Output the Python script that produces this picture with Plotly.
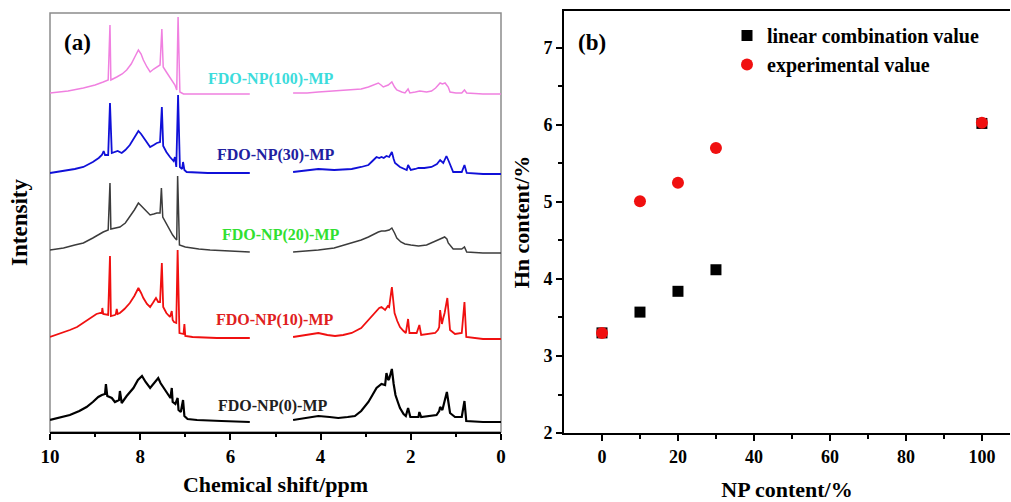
import plotly.graph_objects as go

# ---------------- Panel (a): 1H NMR spectra ----------------
names = ["FDO-NP(100)-MP", "FDO-NP(30)-MP", "FDO-NP(20)-MP", "FDO-NP(10)-MP", "FDO-NP(0)-MP"]
offsets = [338, 259, 180, 94, 10]

pink_L_ppm = [10.0, 9.6, 9.26, 9.0, 8.82, 8.71, 8.67, 8.65, 8.52, 8.40, 8.30, 8.20, 8.12, 8.04, 7.98, 7.93, 7.85, 7.78, 7.70, 7.63, 7.56, 7.52, 7.49, 7.42, 7.34, 7.28, 7.23, 7.19, 7.16, 7.12, 7.04, 6.5, 5.57]
pink_L_int = [1, 3, 6, 9, 12, 14, 69, 14, 17, 20, 24, 30, 37, 44, 40, 34, 27, 22, 25, 27, 29, 65, 27, 22, 17, 13, 9, 4, 77, 2, 0, 0, 0]
pink_R_ppm = [4.61, 4.3, 4.05, 3.7, 3.31, 3.1, 2.94, 2.82, 2.72, 2.66, 2.61, 2.50, 2.42, 2.36, 2.31, 2.20, 2.13, 2.06, 2.02, 1.90, 1.80, 1.65, 1.54, 1.45, 1.35, 1.30, 1.24, 1.17, 1.13, 1.0, 0.87, 0.81, 0.76, 0.4, 0.0]
pink_R_int = [1, 1, 2, 3, 4, 5, 7, 9, 11, 9, 7, 9, 12, 7, 4, 2, 1, 5, 1, 2, 3, 2, 3, 6, 11, 10, 11, 7, 2, 1, 1, 4, 1, 0, 0]

blue_L_ppm = [10.0, 9.7, 9.45, 9.26, 9.05, 8.92, 8.85, 8.81, 8.78, 8.71, 8.67, 8.63, 8.55, 8.50, 8.41, 8.33, 8.23, 8.13, 8.04, 7.98, 7.93, 7.85, 7.78, 7.70, 7.63, 7.56, 7.52, 7.49, 7.42, 7.34, 7.26, 7.23, 7.20, 7.16, 7.12, 7.07, 7.05, 7.02, 6.97, 6.5, 5.57]
blue_L_int = [0, 2, 4, 6, 11, 15, 18, 22, 18, 18, 70, 20, 21, 22, 20, 23, 28, 35, 42, 39, 36, 30, 26, 28, 30, 31, 66, 27, 21, 16, 12, 16, 6, 78, 6, 4, 11, 3, 1, 0, 0]
blue_R_ppm = [4.61, 4.3, 4.05, 3.7, 3.31, 3.1, 2.94, 2.85, 2.76, 2.70, 2.65, 2.60, 2.54, 2.48, 2.42, 2.38, 2.35, 2.24, 2.12, 2.09, 2.06, 2.00, 1.90, 1.83, 1.70, 1.54, 1.42, 1.35, 1.28, 1.21, 1.16, 1.13, 1.06, 0.87, 0.81, 0.76, 0.4, 0.0]
blue_R_int = [1, 3, 4, 3, 4, 6, 8, 12, 16, 15, 16, 15, 17, 16, 21, 14, 10, 6, 4, 3, 8, 3, 4, 5, 5, 6, 9, 13, 10, 17, 12, 8, 1, 1, 8, 0, -1, -1]

gray_L_ppm = [10.0, 9.7, 9.45, 9.26, 9.05, 8.90, 8.82, 8.71, 8.67, 8.65, 8.55, 8.45, 8.33, 8.23, 8.13, 8.04, 7.98, 7.93, 7.85, 7.78, 7.70, 7.63, 7.56, 7.53, 7.50, 7.42, 7.34, 7.28, 7.23, 7.19, 7.17, 7.13, 7.0, 6.89, 6.7, 6.45, 6.0, 5.57]
gray_L_int = [2, 4, 7, 9, 14, 18, 20, 22, 69, 23, 24, 25, 29, 35, 42, 49, 46, 44, 40, 37, 38, 39, 39, 64, 35, 28, 22, 17, 14, 12, 76, 7, 5, 4, 3, 2, 1, 0]
gray_R_ppm = [4.61, 4.3, 4.05, 3.7, 3.31, 3.1, 2.94, 2.82, 2.72, 2.65, 2.57, 2.48, 2.42, 2.36, 2.31, 2.22, 2.13, 2.0, 1.83, 1.65, 1.54, 1.42, 1.35, 1.25, 1.20, 1.17, 1.10, 1.06, 0.87, 0.81, 0.76, 0.4, 0.0]
gray_R_int = [0, 1, 2, 4, 9, 12, 15, 18, 20, 21, 21, 22, 24, 19, 14, 10, 8, 7, 6, 7, 9, 11, 13, 15, 13, 9, 5, 3, 3, 5, 0, -1, -1]

red_L_ppm = [10.0, 9.8, 9.56, 9.4, 9.26, 9.1, 8.97, 8.88, 8.85, 8.84, 8.82, 8.71, 8.67, 8.65, 8.56, 8.54, 8.52, 8.50, 8.45, 8.35, 8.23, 8.13, 8.04, 7.98, 7.93, 7.85, 7.78, 7.72, 7.69, 7.65, 7.60, 7.56, 7.52, 7.49, 7.42, 7.34, 7.30, 7.28, 7.25, 7.20, 7.17, 7.13, 7.04, 7.02, 7.00, 6.84, 6.3, 5.57]
red_L_int = [1, 4, 8, 11, 15, 20, 24, 25, 25, 30, 24, 23, 82, 22, 23, 24, 29, 24, 25, 29, 35, 42, 50, 45, 40, 34, 31, 35, 37, 40, 36, 36, 75, 31, 25, 21, 27, 18, 16, 15, 88, 5, 4, 14, 2, 1, 0, 0]
red_R_ppm = [4.61, 4.35, 4.05, 3.85, 3.68, 3.5, 3.31, 3.1, 2.94, 2.85, 2.76, 2.70, 2.65, 2.57, 2.51, 2.48, 2.42, 2.39, 2.36, 2.30, 2.24, 2.16, 2.11, 2.06, 2.03, 1.87, 1.81, 1.77, 1.60, 1.46, 1.40, 1.37, 1.35, 1.31, 1.28, 1.25, 1.19, 1.16, 1.13, 1.02, 0.87, 0.81, 0.77, 0.4, 0.0]
red_R_int = [1, 3, 5, 3, 2, 3, 5, 10, 18, 23, 28, 30, 31, 28, 32, 31, 51, 35, 25, 17, 11, 7, 5, 19, 5, 5, 13, 3, 4, 5, 8, 11, 28, 14, 20, 25, 40, 22, 8, 4, 5, 36, 1, -1, -1]

black_L_ppm = [10.0, 9.8, 9.56, 9.35, 9.19, 9.05, 8.93, 8.85, 8.78, 8.76, 8.73, 8.63, 8.56, 8.47, 8.45, 8.41, 8.30, 8.15, 8.05, 7.96, 7.88, 7.78, 7.70, 7.62, 7.60, 7.55, 7.49, 7.43, 7.38, 7.33, 7.30, 7.28, 7.22, 7.17, 7.15, 7.10, 7.05, 7.02, 6.95, 6.74, 6.2, 5.57]
black_L_int = [2, 4, 7, 11, 15, 20, 25, 27, 28, 38, 26, 24, 20, 22, 31, 19, 26, 34, 42, 46, 40, 34, 38, 42, 44, 39, 35, 30, 27, 24, 34, 20, 18, 24, 12, 10, 22, 6, 3, 2, 1, 0]
black_R_ppm = [4.61, 4.35, 4.05, 3.8, 3.61, 3.4, 3.24, 3.1, 2.94, 2.85, 2.76, 2.65, 2.57, 2.54, 2.50, 2.48, 2.42, 2.38, 2.34, 2.28, 2.24, 2.16, 2.11, 2.06, 2.01, 1.83, 1.81, 1.77, 1.55, 1.43, 1.37, 1.35, 1.30, 1.25, 1.20, 1.16, 1.13, 1.02, 0.87, 0.81, 0.77, 0.4, 0.0]
black_R_int = [2, 4, 6, 5, 4, 5, 6, 11, 20, 27, 34, 38, 37, 49, 42, 43, 53, 38, 27, 19, 14, 8, 6, 14, 5, 5, 10, 5, 6, 7, 11, 15, 12, 22, 30, 18, 9, 5, 5, 21, 1, 0, 0]

spectra = [
    (pink_L_ppm, pink_L_int, pink_R_ppm, pink_R_int),
    (blue_L_ppm, blue_L_int, blue_R_ppm, blue_R_int),
    (gray_L_ppm, gray_L_int, gray_R_ppm, gray_R_int),
    (red_L_ppm, red_L_int, red_R_ppm, red_R_int),
    (black_L_ppm, black_L_int, black_R_ppm, black_R_int),
]
line_colors = ["#F080E0", "#1010D8", "#3C3C3C", "#F01010", "#000000"]
line_widths = [1.5, 1.8, 1.5, 1.8, 2.2]
label_colors = ["#3CDCDC", "#2020A0", "#30E030", "#E02020", "#202020"]
label_pos_ppm = [5.10, 4.99, 4.88, 5.01, 5.06]
label_pos_y = [353, 277, 197, 112, 26]

# ---------------- Panel (b): Hn content ----------------
np_content = [0, 10, 20, 30, 100]
linear_comb = [3.30, 3.57, 3.84, 4.12, 6.02]
experimental = [3.30, 5.01, 5.25, 5.70, 6.03]

FONT = "Liberation Serif"
W, H = 1011, 502

fig = go.Figure()

for (lp, li, rp, ri), off, col, lw in zip(spectra, offsets, line_colors, line_widths):
    xs = list(lp) + [None] + list(rp)
    ys = [v + off for v in li] + [None] + [v + off for v in ri]
    fig.add_trace(go.Scatter(x=xs, y=ys, mode="lines", line=dict(color=col, width=lw),
                             connectgaps=False, showlegend=False, xaxis="x", yaxis="y",
                             hoverinfo="skip"))

for name, c, px_, py_ in zip(names, label_colors, label_pos_ppm, label_pos_y):
    fig.add_annotation(x=px_, y=py_, xref="x", yref="y", text="<b>%s</b>" % name, showarrow=False,
                       font=dict(family=FONT, size=16, color=c))

fig.add_trace(go.Scatter(x=np_content, y=linear_comb, mode="markers", name="<b>linear combination value</b>",
                         legendgroup="g1",
                         marker=dict(symbol="square", size=11, color="black"), xaxis="x2", yaxis="y2"))
fig.add_trace(go.Scatter(x=np_content, y=experimental, mode="markers", name="<b>experimental value</b>",
                         legendgroup="g2",
                         marker=dict(symbol="circle", size=12, color="#F01010"), xaxis="x2", yaxis="y2"))


def px_x(p):
    return p / W


def px_y(p):
    return 1 - p / H


TITLE_SIZE = 22

fig.update_layout(
    width=W, height=H,
    margin=dict(l=0, r=0, t=0, b=0),
    paper_bgcolor="white", plot_bgcolor="white",
    font=dict(family=FONT, color="black"),
    xaxis=dict(domain=[px_x(50), px_x(501)], range=[10, 0], anchor="y", automargin=False,
               showgrid=False, zeroline=False, showline=True, linecolor="black", linewidth=2,
               ticks="outside", ticklen=6, tickwidth=2, tickcolor="black",
               tickvals=[10, 8, 6, 4, 2, 0], ticktext=["<b>%d</b>" % v for v in [10, 8, 6, 4, 2, 0]],
               tickfont=dict(family=FONT, size=19, color="black"),
               minor=dict(tickvals=[9, 7, 5, 3, 1], ticks="outside", ticklen=3, tickwidth=1.5, tickcolor="black"),
               title=dict(text="<b>Chemical shift/ppm</b>", font=dict(family=FONT, size=TITLE_SIZE, color="black"), standoff=11)),
    yaxis=dict(domain=[px_y(432), px_y(13)], range=[0, 419], anchor="x", automargin=False,
               showgrid=False, zeroline=False, showline=False, showticklabels=False, ticks="",
               title=dict(text="<b>Intensity</b>", font=dict(family=FONT, size=23, color="black"), standoff=14)),
    xaxis2=dict(domain=[px_x(564), px_x(1010)], range=[-10, 107.4], anchor="y2", automargin=False,
                showgrid=False, zeroline=False, showline=True, linecolor="black", linewidth=2, mirror=True,
                ticks="outside", ticklen=6, tickwidth=2, tickcolor="black",
                tickvals=[0, 20, 40, 60, 80, 100], ticktext=["<b>%d</b>" % v for v in [0, 20, 40, 60, 80, 100]],
                tickfont=dict(family=FONT, size=18, color="black"),
                minor=dict(tickvals=[10, 30, 50, 70, 90], ticks="outside", ticklen=4, tickwidth=1.5, tickcolor="black"),
                title=dict(text="<b>NP content/%</b>", font=dict(family=FONT, size=TITLE_SIZE, color="black"), standoff=25)),
    yaxis2=dict(domain=[px_y(433), px_y(11)], range=[2, 7.48], anchor="x2", automargin=False,
                showgrid=False, zeroline=False, showline=True, linecolor="black", linewidth=2,
                ticks="outside", ticklen=6, tickwidth=2, tickcolor="black",
                tickvals=[2, 3, 4, 5, 6, 7], ticktext=["<b>%d</b>" % v for v in [2, 3, 4, 5, 6, 7]],
                tickfont=dict(family=FONT, size=18, color="black"),
                minor=dict(tickvals=[2.5, 3.5, 4.5, 5.5, 6.5], ticks="outside", ticklen=4, tickwidth=1.5, tickcolor="black"),
                title=dict(text="<b>Hn content/%</b>", font=dict(family=FONT, size=TITLE_SIZE, color="black"), standoff=8)),
    legend=dict(x=px_x(727), y=px_y(16), xanchor="left", yanchor="top",
                font=dict(family=FONT, size=20, color="black"), bgcolor="rgba(0,0,0,0)",
                itemwidth=30, tracegroupgap=0, traceorder="grouped"),
    showlegend=True,
)

fig.add_shape(type="rect", xref="x domain", yref="y domain", x0=0, x1=1, y0=0, y1=1,
              line=dict(color="#8C8C8C", width=1.5), layer="below")

fig.add_annotation(x=px_x(62), y=px_y(42), xref="paper", yref="paper", xanchor="left", yanchor="middle",
                   text="<b>(a)</b>", showarrow=False, font=dict(family=FONT, size=23, color="black"))
fig.add_annotation(x=px_x(576), y=px_y(42), xref="paper", yref="paper", xanchor="left", yanchor="middle",
                   text="<b>(b)</b>", showarrow=False, font=dict(family=FONT, size=23, color="black"))

fig.write_html("out.html")
